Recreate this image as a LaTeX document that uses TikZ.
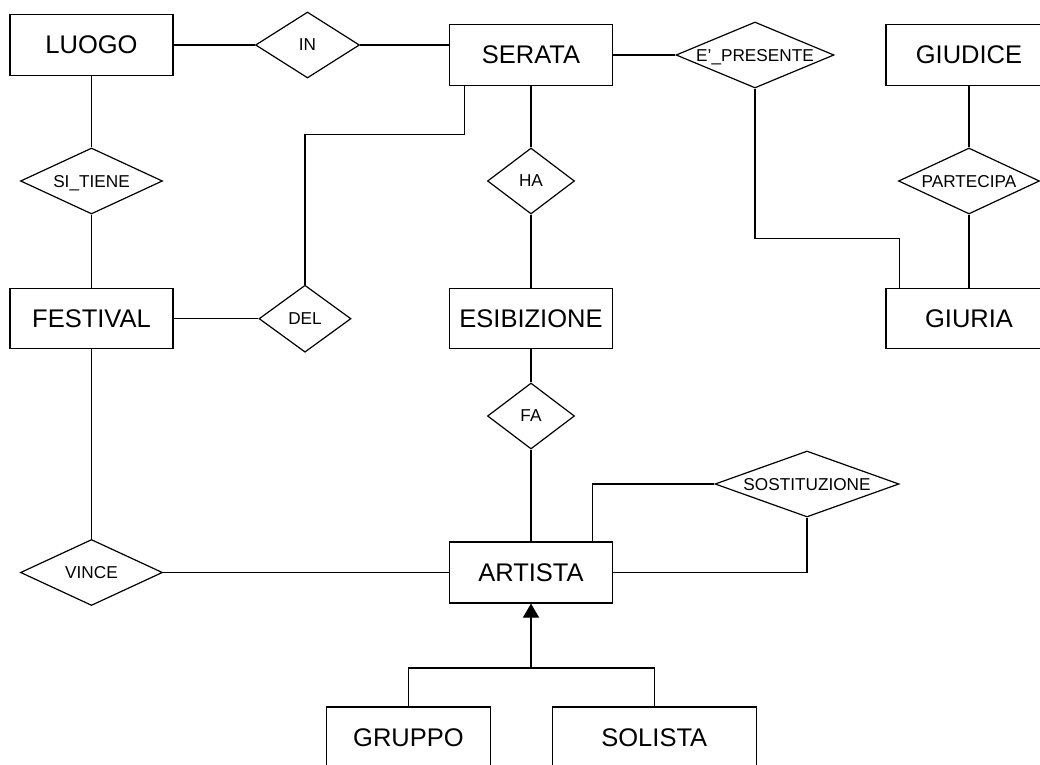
\documentclass[tikz,border=0pt]{standalone}
\usepackage{fontspec}
\setmainfont{Liberation Sans}
\usetikzlibrary{shapes.geometric,arrows.meta}

\tikzset{
  entity/.style={draw, rectangle, inner sep=0pt, minimum width=81.5pt, minimum height=30.5pt,
    font=\fontsize{12.75}{15}\selectfont},
  rel/.style={draw, diamond, inner sep=0pt, aspect=2.5, minimum height=33pt, text depth=0pt,
    font=\fontsize{8.6}{10}\selectfont},
  link/.style={line width=0.6pt}
}

\begin{document}
\begin{tikzpicture}[x=0.5pt, y=-0.5pt, line width=0.6pt]
\useasboundingbox (0,0) rectangle (1040,765);

% entita'
\node[entity] (luogo) at (91.5,45) {LUOGO};
\node[entity] (serata) at (531,55) {SERATA};
\node[entity, minimum width=83pt] (giudice) at (969,55) {GIUDICE};
\node[entity, minimum height=30pt] (festival) at (91.5,318.7) {FESTIVAL};
\node[entity, minimum height=30pt] (esibizione) at (531,318.7) {ESIBIZIONE};
\node[entity, minimum width=83pt, minimum height=30pt] (giuria) at (969,318.7) {GIURIA};
\node[entity] (artista) at (531,572.5) {ARTISTA};
\node[entity, minimum width=82pt] (gruppo) at (408.5,737.5) {GRUPPO};
\node[entity, minimum width=102pt] (solista) at (654.3,737.5) {SOLISTA};

% relazioni
\node[rel, minimum width=52pt] (in) at (307.5,45) {IN};
\node[rel, minimum width=71pt] (sitiene) at (91.5,181) {SI\_TIENE};
\node[rel, minimum width=43.5pt] (ha) at (531,181) {HA};
\node[rel, minimum width=79pt] (presente) at (755,55) {E'\_PRESENTE};
\node[rel, minimum width=70.5pt] (partecipa) at (969,181) {PARTECIPA};
\node[rel, minimum width=46pt, minimum height=33.5pt] (del) at (305,318.7) {DEL};
\node[rel, minimum width=43.5pt] (fa) at (531,416) {FA};
\node[rel, minimum width=92pt] (sostituzione) at (807,484) {SOSTITUZIONE};
\node[rel, minimum width=71pt] (vince) at (91.5,572.5) {VINCE};

% punti di piega
\coordinate (delbend) at (464.3,134.7);
\coordinate (presbend) at (899.3,238.3);
\coordinate (sostbend) at (592.7,484);
\coordinate (isa) at (531,668);

% collegamenti
\draw[link] (luogo.east) -- (in.west);
\draw[link] (in.east) -- (in.east -| serata.west);
\draw[link] (luogo.south) -- (sitiene.north);
\draw[link] (sitiene.south) -- (festival.north);
\draw[link] (festival.east) -- (del.west);
\draw[link] (del.north) |- (delbend) -- (delbend |- serata.south);
\draw[link] (serata.south) -- (ha.north);
\draw[link] (ha.south) -- (esibizione.north);
\draw[link] (esibizione.south) -- (fa.north);
\draw[link] (fa.south) -- (artista.north);
\draw[link] (serata.east) -- (presente.west);
\draw[link] (presente.south) |- (presbend) -- (presbend |- giuria.north);
\draw[link] (giudice.south) -- (partecipa.north);
\draw[link] (partecipa.south) -- (giuria.north);
\draw[link] (festival.south) -- (vince.north);
\draw[link] (vince.east) -- (artista.west);
\draw[link] (sostbend |- artista.north) -- (sostbend) -- (sostituzione.west);
\draw[link] (sostituzione.south) |- (artista.east);

% generalizzazione
\draw[link] (gruppo.north) |- (isa) -| (solista.north);
\draw[link, -{Triangle[length=7pt, width=8pt]}] (isa) -- (artista.south);
\end{tikzpicture}
\end{document}
